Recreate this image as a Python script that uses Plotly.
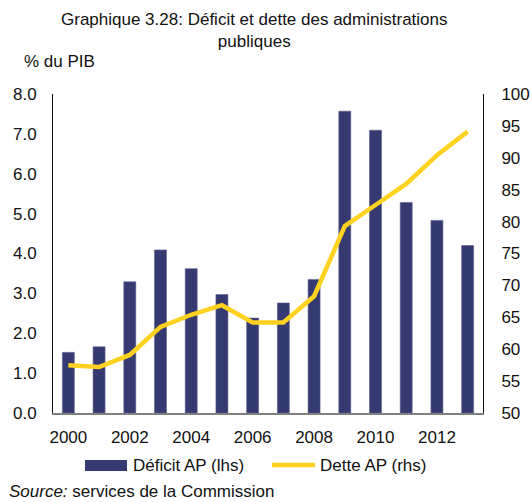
import plotly.graph_objects as go

# Public finances, % of GDP
years = list(range(2000, 2014))
deficit = [1.52, 1.66, 3.29, 4.09, 3.62, 2.97, 2.38, 2.76, 3.35, 7.57, 7.09, 5.28, 4.83, 4.20]
debt = [57.5, 57.2, 59.1, 63.5, 65.4, 66.9, 64.2, 64.2, 68.3, 79.3, 82.6, 85.9, 90.4, 94.1]

left_ticks = [0, 1, 2, 3, 4, 5, 6, 7, 8]
right_ticks = [50, 55, 60, 65, 70, 75, 80, 85, 90, 95, 100]
x_ticks = [2000, 2002, 2004, 2006, 2008, 2010, 2012]

NAVY = "#353B70"
GOLD = "#FFD21F"
FONT = "Liberation Sans, Arial, sans-serif"
FS = 17

fig = go.Figure()
fig.add_trace(go.Bar(
    x=years, y=deficit, name="Déficit AP (lhs)",
    marker=dict(color=NAVY, line=dict(color="#5A5F8E", width=0.6)),
    showlegend=False,
))
fig.add_trace(go.Scatter(
    x=years, y=debt, name="Dette AP (rhs)", yaxis="y2", mode="lines",
    line=dict(color=GOLD, width=4.5), showlegend=False,
))

fig.update_layout(
    width=531, height=502, autosize=False,
    margin=dict(l=53, r=48, t=94, b=89),
    paper_bgcolor="white", plot_bgcolor="white",
    font=dict(family=FONT, size=FS, color="#111111"),
    bargap=0.61,
    xaxis=dict(
        range=[1999.5, 2013.5], tickvals=x_ticks, showgrid=False,
        showline=True, linecolor="#808080", linewidth=2,
        ticks="", ticklabelstandoff=8, zeroline=False, automargin=False,
    ),
    yaxis=dict(
        range=[0, 8], tickvals=left_ticks, tickformat=".1f", showgrid=False,
        showline=True, linecolor="#111111", linewidth=1,
        ticks="", ticklabelstandoff=12, zeroline=False, automargin=False,
    ),
    yaxis2=dict(
        range=[50, 100], tickvals=right_ticks, overlaying="y", side="right",
        showgrid=False, showline=True, linecolor="#111111", linewidth=1,
        ticks="", ticklabelstandoff=14, zeroline=False, automargin=False,
    ),
)

def px_x(p):
    return (p - 53) / 430

def px_y(p):
    return (413 - p) / 319

annotations = [
    dict(text="Graphique 3.28: Déficit et dette des administrations<br>publiques",
         x=px_x(254), y=px_y(30), xanchor="center", yanchor="middle",
         font=dict(size=FS)),
    dict(text="% du PIB", x=px_x(22), y=px_y(62), xanchor="left", yanchor="middle",
         font=dict(size=FS)),
    dict(text="Déficit AP (lhs)", x=px_x(131), y=px_y(465), xanchor="left", yanchor="middle",
         font=dict(size=FS)),
    dict(text="Dette AP (rhs)", x=px_x(318), y=px_y(465), xanchor="left", yanchor="middle",
         font=dict(size=FS)),
    dict(text="<i>Source:</i> services de la Commission", x=px_x(7), y=px_y(491),
         xanchor="left", yanchor="middle", font=dict(size=FS)),
]
for a in annotations:
    a.update(xref="paper", yref="paper", showarrow=False, align="center")
fig.update_layout(annotations=annotations)

# Legend swatches
fig.add_shape(type="rect", xref="paper", yref="paper",
              x0=px_x(85), x1=px_x(127), y0=px_y(471), y1=px_y(460),
              fillcolor=NAVY, line=dict(width=0))
fig.add_shape(type="line", xref="paper", yref="paper",
              x0=px_x(272), x1=px_x(315), y0=px_y(465), y1=px_y(465),
              line=dict(color=GOLD, width=4.5))

fig.write_html("out.html")
